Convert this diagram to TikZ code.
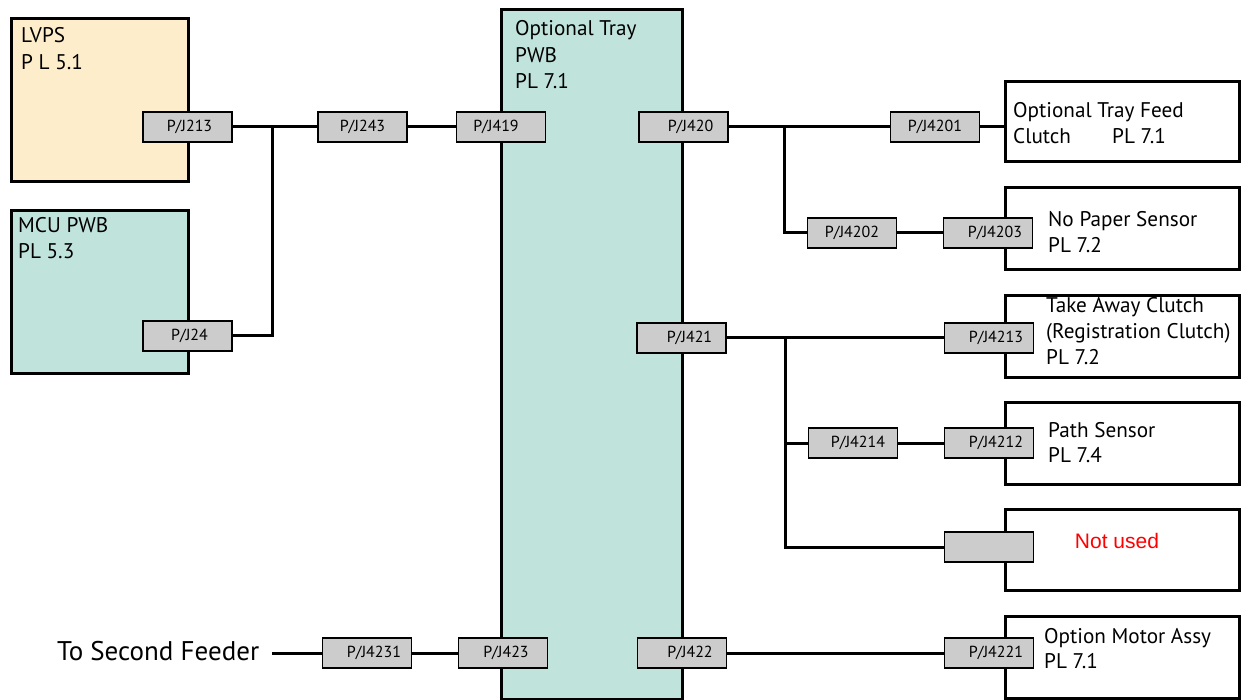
\documentclass[tikz,border=0pt]{standalone}
\usepackage{fontspec}
\setmainfont{PT Sans}
\newfontfamily\arialf{Liberation Sans}
\usetikzlibrary{calc}
\definecolor{tealbg}{HTML}{C0E4DC}
\definecolor{yelbg}{HTML}{FDEDCB}
\definecolor{connbg}{HTML}{CCCCCC}
\definecolor{notred}{HTML}{FF0000}
\begin{document}
\begin{tikzpicture}[x=1pt,y=-1pt,
  bigbox/.style={draw=black,line width=3pt,anchor=north west,inner sep=0pt},
  conn/.style={draw=black,fill=connbg,line width=1.2pt,minimum width=89pt,minimum height=30pt,inner sep=0pt,font=\fontsize{16}{18}\selectfont},
  wire/.style={line width=3pt},
  lbl/.style={anchor=base west,inner sep=0pt,font=\fontsize{21.2}{24}\selectfont}]
\useasboundingbox (0,0) rectangle (1245,700);

% big boxes
\node[bigbox,fill=yelbg,minimum width=177pt,minimum height=163pt] (lvps) at (10,17) {};
\node[bigbox,fill=tealbg,minimum width=177pt,minimum height=163pt] (mcu) at (10,209) {};
\node[bigbox,fill=tealbg,minimum width=181pt,minimum height=690pt] (tray) at (500,8) {};
\node[bigbox,minimum width=234pt,minimum height=80pt] (feed) at (1004,80) {};
\node[bigbox,minimum width=234pt,minimum height=82pt] (nopaper) at (1004,186) {};
\node[bigbox,minimum width=234pt,minimum height=82pt] (takeaway) at (1004,294) {};
\node[bigbox,minimum width=234pt,minimum height=82pt] (path) at (1004,401) {};
\node[bigbox,minimum width=234pt,minimum height=81pt] (notused) at (1004,508) {};
\node[bigbox,minimum width=234pt,minimum height=82pt] (motor) at (1004,615) {};

% labels
\node[lbl] (lvpsA) at (21,43) {LVPS};
\node[lbl] (lvpsB) at (21,70) {P L 5.1};
\node[lbl] (mcuA) at (18,233) {MCU PWB};
\node[lbl] (mcuB) at (18,259) {PL 5.3};
\node[lbl] (trayA) at (515,36) {Optional Tray};
\node[lbl] (trayB) at (515,63) {PWB};
\node[lbl] (trayC) at (515,89) {PL 7.1};
\node[lbl] (feedA) at (1013,118) {Optional Tray Feed};
\node[lbl] (feedB) at (1013,144) {Clutch};
\node[lbl] (feedC) at (1112,144) {PL 7.1};
\node[lbl] (npA) at (1048,227) {No Paper Sensor};
\node[lbl] (npB) at (1048,253) {PL 7.2};
\node[lbl] (taA) at (1046,313) {Take Away Clutch};
\node[lbl] (taB) at (1046,339) {(Registration Clutch)};
\node[lbl] (taC) at (1046,365) {PL 7.2};
\node[lbl] (psA) at (1048,437) {Path Sensor};
\node[lbl] (psB) at (1048,462) {PL 7.4};
\node[anchor=base,inner sep=0pt,text=notred,font=\arialf\fontsize{21}{24}\selectfont] (nu) at (1117,548) {Not used};
\node[lbl] (omA) at (1044,643) {Option Motor Assy};
\node[lbl] (omB) at (1044,668) {PL 7.1};
\node[anchor=base west,inner sep=0pt,font=\fontsize{27}{30}\selectfont] (feeder) at (57,660) {To Second Feeder};

% connectors
\node[conn] (j213) at (187.5,127) {\hspace*{4pt}P/J213};
\node[conn] (j24) at (187.5,336) {\hspace*{4pt}P/J24};
\node[conn] (j243) at (362.5,127) {P/J243};
\node[conn] (j419) at (501,127) {P/J419\hspace*{10pt}};
\node[conn] (j420) at (683.5,127) {\hspace*{14pt}P/J420};
\node[conn] (j4201) at (935,127) {P/J4201};
\node[conn] (j4202) at (852,233) {P/J4202};
\node[conn] (j4203) at (988,233) {\hspace*{14pt}P/J4203};
\node[conn] (j421) at (681.5,338) {\hspace*{16pt}P/J421};
\node[conn] (j4213) at (989,338) {\hspace*{14pt}P/J4213};
\node[conn] (j4214) at (853,443) {\hspace*{10pt}P/J4214};
\node[conn] (j4212) at (989,443) {\hspace*{14pt}P/J4212};
\node[conn] (jblank) at (989,547) {};
\node[conn] (j4231) at (367,653) {\hspace*{14pt}P/J4231};
\node[conn] (j423) at (503,653) {\hspace*{6pt}P/J423};
\node[conn] (j422) at (682,653) {\hspace*{16pt}P/J422};
\node[conn] (j4221) at (989,653) {\hspace*{14pt}P/J4221};

% wires
\coordinate (n1) at (272,127);
\coordinate (n2) at (784,127);
\coordinate (n3) at (785,338);
\coordinate (fs) at (272,653);
\draw[wire] (j213.east) -- (j243.west);
\draw[wire] (n1) |- (j24.east);
\draw[wire] (j243.east) -- (j419.west);
\draw[wire] (j420.east) -- (j4201.west);
\draw[wire] (j4201.east) -- (j4201.east -| feed.west);
\draw[wire] (n2) |- (j4202.west);
\draw[wire] (j4202.east) -- (j4203.west);
\draw[wire] (j421.east) -- (j4213.west);
\draw[wire] (n3) |- (jblank.west);
\draw[wire] (n3 |- j4214) -- (j4214.west);
\draw[wire] (j4214.east) -- (j4212.west);
\draw[wire] (j422.east) -- (j4221.west);
\draw[wire] (fs) -- (j4231.west);
\draw[wire] (j4231.east) -- (j423.west);
\end{tikzpicture}
\end{document}
